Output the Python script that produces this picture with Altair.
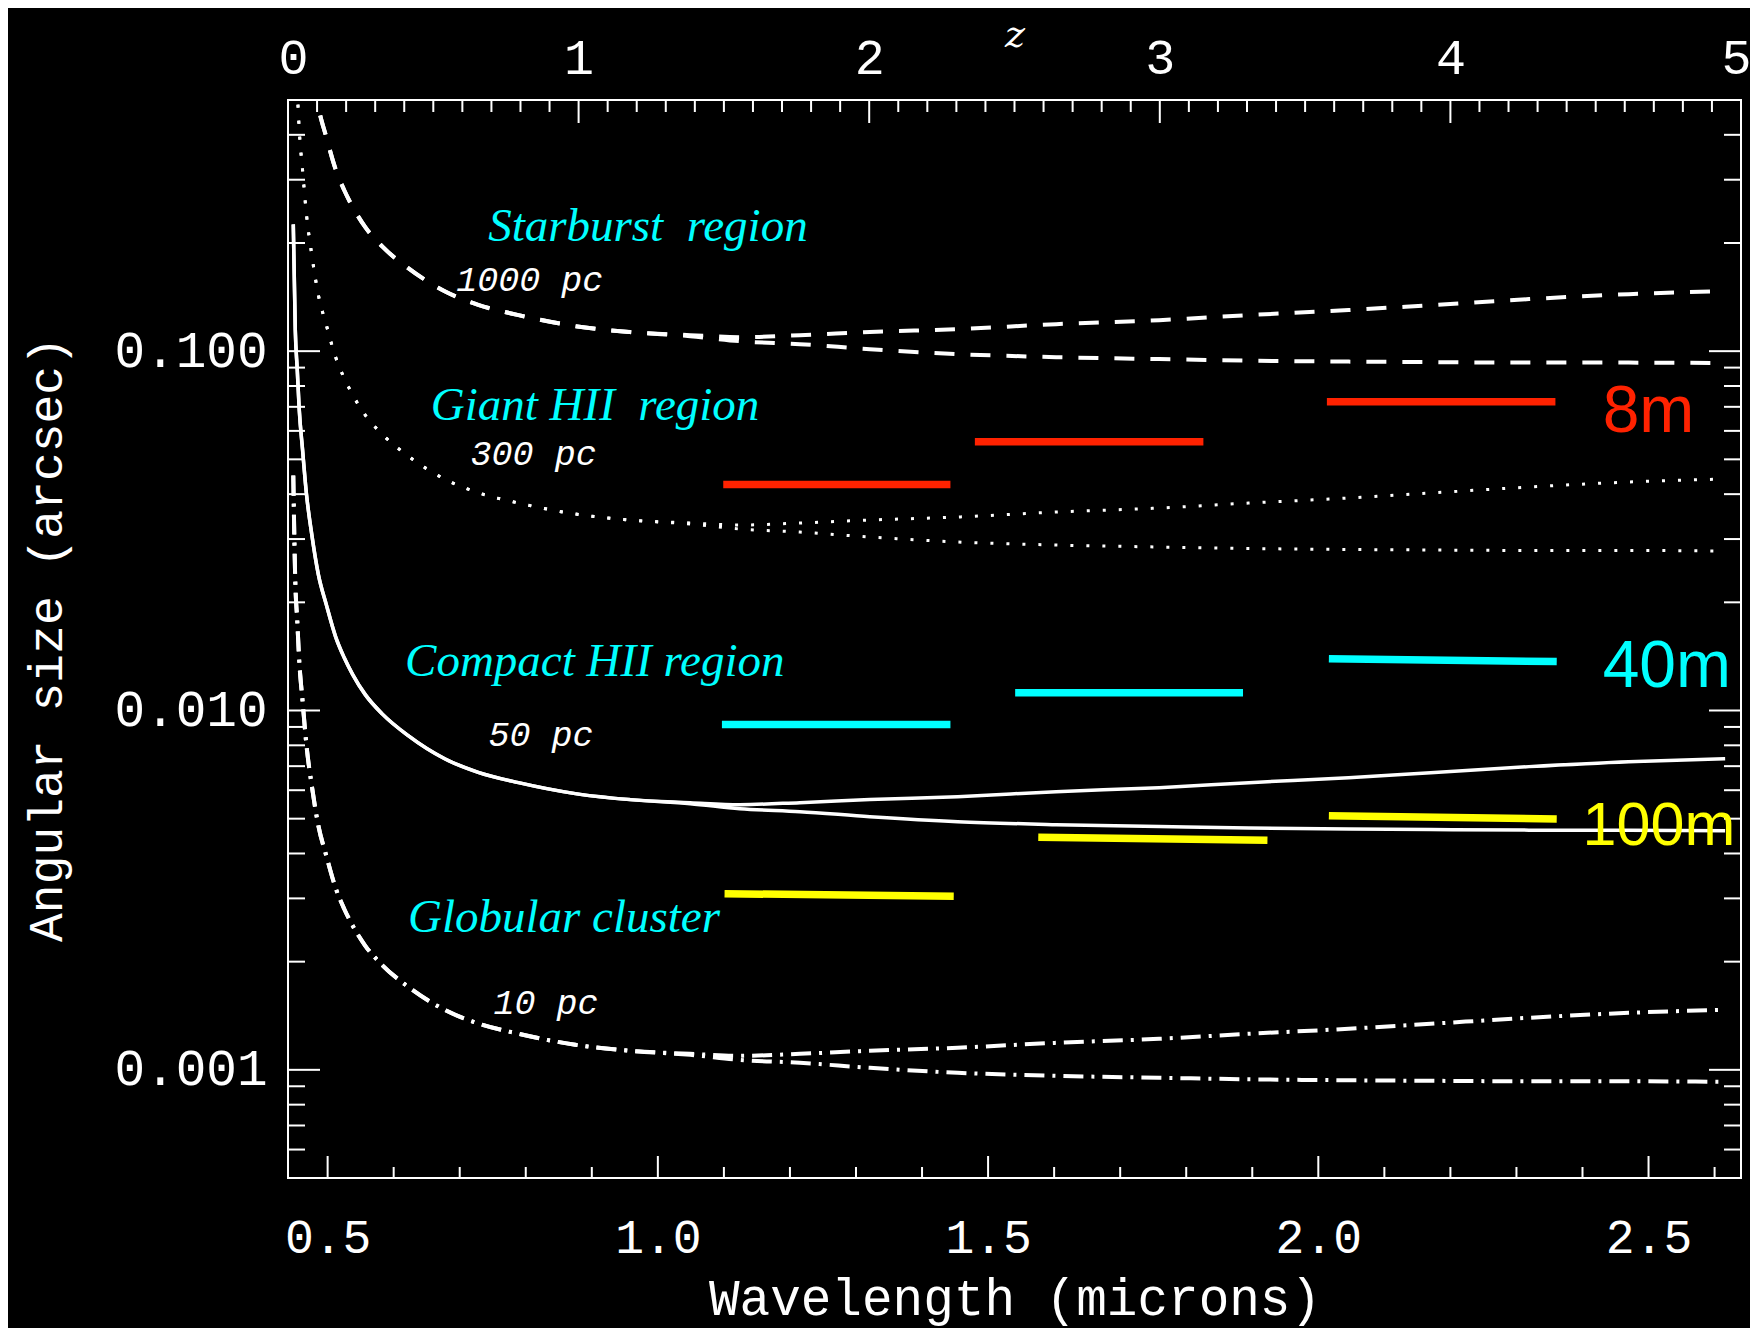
import altair as alt
import pandas as pd

# ---------------- data ----------------
# observed wavelength grid (microns)
lam = [0.448, 0.451, 0.454, 0.457, 0.462, 0.468, 0.476, 0.486, 0.498, 0.512,
       0.525, 0.538, 0.557, 0.583, 0.622, 0.678, 0.728, 0.789, 0.875, 0.958,
       1.049, 1.124, 1.215, 1.321, 1.454, 1.603, 1.759, 1.895, 2.046, 2.170,
       2.319, 2.470, 2.616]

# angular size (arcsec), two cosmologies per physical size (a = rising, b = flat)
pc1000_a = [4.506, 2.298, 1.779, 1.377, 1.065, 0.7986, 0.6180, 0.4778, 0.3942, 0.3212,
            0.2808, 0.2518, 0.2214, 0.1954, 0.1702, 0.1466, 0.1346, 0.1260, 0.1174, 0.1130,
            0.1108, 0.1094, 0.1108, 0.1130, 0.1152, 0.1189, 0.1220, 0.1260, 0.1301, 0.1343,
            0.1396, 0.1441, 0.1469]
pc1000_b = [4.506, 2.298, 1.779, 1.377, 1.065, 0.7986, 0.6180, 0.4778, 0.3942, 0.3212,
            0.2808, 0.2518, 0.2214, 0.1954, 0.1702, 0.1466, 0.1346, 0.1260, 0.1174, 0.1130,
            0.1101, 0.1066, 0.1046, 0.1013, 0.09812, 0.09624, 0.09504, 0.09412, 0.09352, 0.09322,
            0.09292, 0.09292, 0.09262]
pc300_a = [1.352, 0.6894, 0.5336, 0.4130, 0.3196, 0.2396, 0.1854, 0.1433, 0.1183, 0.09636,
           0.08424, 0.07554, 0.06642, 0.05862, 0.05107, 0.04397, 0.04038, 0.03779, 0.03523, 0.03389,
           0.03325, 0.03282, 0.03325, 0.03389, 0.03455, 0.03567, 0.03660, 0.03779, 0.03902, 0.04029,
           0.04187, 0.04324, 0.04408]
pc300_b = [1.352, 0.6894, 0.5336, 0.4130, 0.3196, 0.2396, 0.1854, 0.1433, 0.1183, 0.09636,
           0.08424, 0.07554, 0.06642, 0.05862, 0.05107, 0.04397, 0.04038, 0.03779, 0.03523, 0.03389,
           0.03303, 0.03199, 0.03138, 0.03039, 0.02944, 0.02887, 0.02851, 0.02824, 0.02806, 0.02797,
           0.02788, 0.02788, 0.02779]
pc50_a = [0.2253, 0.1149, 0.08893, 0.06883, 0.05326, 0.03993, 0.03090, 0.02389, 0.01971, 0.01606,
          0.01404, 0.01259, 0.01107, 0.00977, 0.008511, 0.007328, 0.006730, 0.006298, 0.005871, 0.005649,
          0.005541, 0.005470, 0.005541, 0.005649, 0.005758, 0.005945, 0.006100, 0.006298, 0.006503, 0.006715,
          0.006979, 0.007206, 0.007346]
pc50_b = [0.2253, 0.1149, 0.08893, 0.06883, 0.05326, 0.03993, 0.03090, 0.02389, 0.01971, 0.01606,
          0.01404, 0.01259, 0.01107, 0.00977, 0.008511, 0.007328, 0.006730, 0.006298, 0.005871, 0.005649,
          0.005505, 0.005332, 0.005230, 0.005065, 0.004906, 0.004812, 0.004752, 0.004706, 0.004676, 0.004661,
          0.004646, 0.004646, 0.004631]
pc10_a = [0.04506, 0.02298, 0.01779, 0.01377, 0.01065, 0.007986, 0.006180, 0.004778, 0.003942, 0.003212,
          0.002808, 0.002518, 0.002214, 0.001954, 0.001702, 0.001466, 0.001346, 0.001260, 0.001174, 0.001130,
          0.001108, 0.001094, 0.001108, 0.001130, 0.001152, 0.001189, 0.001220, 0.001260, 0.001301, 0.001343,
          0.001396, 0.001441, 0.001469]
pc10_b = [0.04506, 0.02298, 0.01779, 0.01377, 0.01065, 0.007986, 0.006180, 0.004778, 0.003942, 0.003212,
          0.002808, 0.002518, 0.002214, 0.001954, 0.001702, 0.001466, 0.001346, 0.001260, 0.001174, 0.001130,
          0.001101, 0.001066, 0.001046, 0.001013, 0.0009812, 0.0009624, 0.0009504, 0.0009412, 0.0009352, 0.0009322,
          0.0009292, 0.0009292, 0.0009262]

# telescope diffraction-limit segments (J, H, K)
bar_tel = ["8m", "8m", "8m", "40m", "40m", "40m", "100m", "100m", "100m"]
bar_lam1 = [1.099, 1.480, 2.013, 1.097, 1.541, 2.016, 1.101, 1.576, 2.016]
bar_lam2 = [1.443, 1.826, 2.359, 1.443, 1.886, 2.361, 1.448, 1.923, 2.361]
bar_th1 = [0.04256, 0.05592, 0.07227, 0.009135, 0.01121, 0.01394, 0.003092, 0.004436, 0.005098]
bar_th2 = [0.04256, 0.05592, 0.07227, 0.009135, 0.01121, 0.01368, 0.003039, 0.004351, 0.004991]
tel_colors = {"8m": "#ff2200", "40m": "#00ffff", "100m": "#ffff00"}

# annotations
region_labels = ["Starburst\u00a0 region", "Giant HII\u00a0 region", "Compact HII region", "Globular cluster"]
region_lam = [0.7431, 0.6562, 0.6172, 0.6216]
region_th = [0.2020, 0.06425, 0.01245, 0.002412]

size_labels = ["1000 pc", "300 pc", "50 pc", "10 pc"]
size_lam = [0.6947, 0.7165, 0.7436, 0.7511]
size_th = [0.1466, 0.04836, 0.007961, 0.001432]

tel_labels = ["8m", "40m", "100m"]
tel_lam = [2.4305, 2.4305, 2.4002]
tel_th = [0.05976, 0.01165, 0.004233]
tel_size = [66, 66, 61]

# ticks
x_major = [0.5, 1.0, 1.5, 2.0, 2.5]
x_minor = [0.6, 0.7, 0.8, 0.9, 1.1, 1.2, 1.3, 1.4, 1.6, 1.7, 1.8, 1.9,
           2.1, 2.2, 2.3, 2.4, 2.6]
z_major = [0, 1, 2, 3, 4, 5]
z_minor = [i / 10 for i in range(1, 50) if i % 10]
y_major = [0.1, 0.01, 0.001]
y_minor = [0.0006, 0.0007, 0.0008, 0.0009,
           0.002, 0.003, 0.004, 0.005, 0.006, 0.007, 0.008, 0.009,
           0.02, 0.03, 0.04, 0.05, 0.06, 0.07, 0.08, 0.09,
           0.2, 0.3, 0.4]

# ---------------- build tables ----------------
rows = []
for name, grp, vals in [("1000a", "1000", pc1000_a), ("1000b", "1000", pc1000_b),
                        ("300a", "300", pc300_a), ("300b", "300", pc300_b),
                        ("50a", "50", pc50_a), ("50b", "50", pc50_b),
                        ("10a", "10", pc10_a), ("10b", "10", pc10_b)]:
    for l, t in zip(lam, vals):
        rows.append({"lam": l, "theta": t, "curve": name, "grp": grp})
curves = pd.DataFrame(rows)

bars = pd.DataFrame({"lam": bar_lam1, "lam2": bar_lam2, "theta": bar_th1, "theta2": bar_th2,
                     "col": [tel_colors[t] for t in bar_tel]})
regions = pd.DataFrame({"lam": region_lam, "theta": region_th, "label": region_labels})
sizes = pd.DataFrame({"lam": size_lam, "theta": size_th, "label": size_labels})
tels = pd.DataFrame({"lam": tel_lam, "theta": tel_th, "label": tel_labels, "fs": tel_size,
                     "col": [tel_colors[t] for t in tel_labels]})

W, H = 1453, 1078
WHITE = "white"
AXFONT = "Liberation Mono"

xscale = alt.Scale(domain=[0.44, 2.64], nice=False, zero=False)
yscale = alt.Scale(type="log", domain=[0.0005, 0.5], nice=False)
xaxis = alt.Axis(values=x_major, format=".1f", ticks=False, domain=False, grid=False,
                 labelFlush=False, labelOverlap=False, labelFont=AXFONT, labelFontSize=48,
                 labelColor=WHITE, labelPadding=36, title="Wavelength (microns)",
                 titleFont=AXFONT, titleFontSize=51, titleFontWeight="normal",
                 titleColor=WHITE, titleY=136, titleBaseline="alphabetic")
yaxis = alt.Axis(values=y_major, format=".3f", ticks=False, domain=False, grid=False,
                 labelOverlap=False, labelFont=AXFONT, labelFontSize=51, labelColor=WHITE,
                 labelPadding=21, title="Angular size (arcsec)", titleFont=AXFONT,
                 titleFontSize=48, titleFontWeight="normal", titleColor=WHITE,
                 titleX=-241, titleBaseline="middle")


def X(field="lam"):
    return alt.X(f"{field}:Q", scale=xscale, axis=xaxis)


def Y(field="theta"):
    return alt.Y(f"{field}:Q", scale=yscale, axis=yaxis)


def curve_layer(grp, **style):
    return alt.Chart(curves[curves.grp == grp]).mark_line(
        color=WHITE, clip=True, interpolate="monotone", **style
    ).encode(x=X(), y=Y(), detail="curve:N")


l1000 = curve_layer("1000", strokeWidth=4, strokeDash=[20, 16])
l300 = curve_layer("300", strokeWidth=3, strokeDash=[3, 13])
l50 = curve_layer("50", strokeWidth=3.5)
l10 = curve_layer("10", strokeWidth=4, strokeDash=[20, 8, 3, 8])

bar_layer = alt.Chart(bars).mark_rule(strokeWidth=7.5, strokeCap="butt").encode(
    x=X(), x2="lam2:Q", y=Y(), y2="theta2:Q", color=alt.Color("col:N", scale=None))

region_text = alt.Chart(regions).mark_text(
    align="left", baseline="alphabetic", font="Liberation Serif", fontStyle="italic",
    fontSize=47, color="#00ffff").encode(x=X(), y=Y(), text="label:N")
size_text = alt.Chart(sizes).mark_text(
    align="left", baseline="alphabetic", font="Liberation Mono", fontStyle="italic",
    fontSize=35, color=WHITE).encode(x=X(), y=Y(), text="label:N")
tel_text = alt.Chart(tels).mark_text(
    align="left", baseline="alphabetic", font="Liberation Sans Narrow, Liberation Sans, sans-serif"
).encode(x=X(), y=Y(), text="label:N", color=alt.Color("col:N", scale=None),
         size=alt.Size("fs:Q", scale=None))

xmaj_df = pd.DataFrame({"lam": x_major})
xmin_df = pd.DataFrame({"lam": x_minor})
ymaj_df = pd.DataFrame({"theta": y_major})
ymin_df = pd.DataFrame({"theta": y_minor})

tick = dict(color=WHITE, strokeWidth=2)
bt_major = alt.Chart(xmaj_df).mark_rule(**tick).encode(x=X(), y=alt.value(H), y2=alt.value(H - 22))
bt_minor = alt.Chart(xmin_df).mark_rule(**tick).encode(x=X(), y=alt.value(H), y2=alt.value(H - 11))
lt_major = alt.Chart(ymaj_df).mark_rule(**tick).encode(y=Y(), x=alt.value(0), x2=alt.value(32))
lt_minor = alt.Chart(ymin_df).mark_rule(**tick).encode(y=Y(), x=alt.value(0), x2=alt.value(17))
rt_major = alt.Chart(ymaj_df).mark_rule(**tick).encode(y=Y(), x=alt.value(W), x2=alt.value(W - 32))
rt_minor = alt.Chart(ymin_df).mark_rule(**tick).encode(y=Y(), x=alt.value(W), x2=alt.value(W - 17))

inner = alt.layer(bt_major, bt_minor, lt_major, lt_minor, rt_major, rt_minor,
                  l1000, l300, l50, l10, bar_layer, region_text, size_text, tel_text)

zscale = alt.Scale(domain=[0, 5], nice=False, zero=False)
zaxis = alt.Axis(orient="top", values=z_major, format="d", ticks=False, domain=False, grid=False,
                 labelFlush=True, labelFlushOffset=10, labelOverlap=False, labelFont=AXFONT,
                 labelFontSize=50, labelColor=WHITE, labelPadding=17, title="z",
                 titleFont="DejaVu Serif", titleFontStyle="italic", titleFontSize=38,
                 titleFontWeight="normal", titleColor=WHITE, titleY=-54,
                 titleBaseline="alphabetic")
zmaj_df = pd.DataFrame({"z": z_major})
zmin_df = pd.DataFrame({"z": z_minor})
tt_major = alt.Chart(zmaj_df).mark_rule(**tick).encode(
    x=alt.X("z:Q", scale=zscale, axis=zaxis), y=alt.value(0), y2=alt.value(23))
tt_minor = alt.Chart(zmin_df).mark_rule(**tick).encode(
    x=alt.X("z:Q", scale=zscale, axis=zaxis), y=alt.value(0), y2=alt.value(12))
top = alt.layer(tt_major, tt_minor)

chart = alt.layer(inner, top).resolve_scale(x="independent").properties(
    width=W, height=H,
    padding={"left": 280, "top": 92, "right": 9, "bottom": 150},
    autosize=alt.AutoSizeParams(type="none"),
    background="black",
).configure_view(stroke=WHITE, strokeWidth=2)

chart.save("out.html", embed_options={"renderer": "svg", "actions": False})
